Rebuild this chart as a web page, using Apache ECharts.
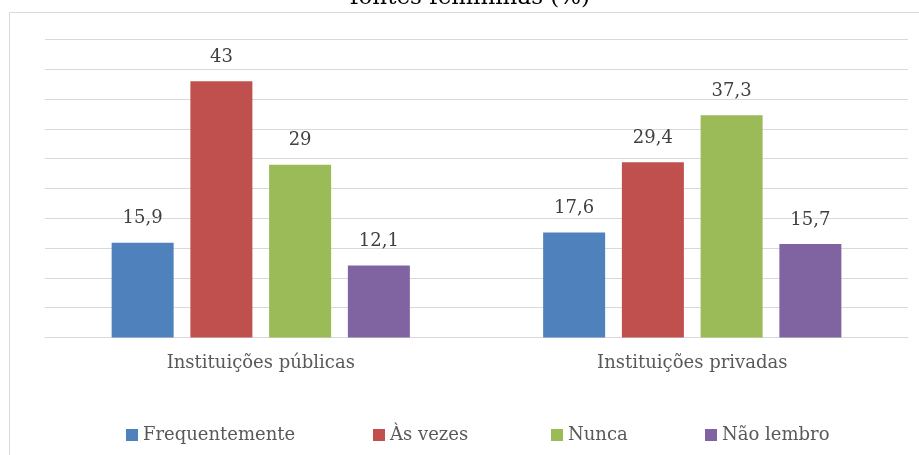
<!DOCTYPE html>
<html>
<head>
<meta charset="utf-8">
<script src="https://cdn.jsdelivr.net/npm/echarts@6/dist/echarts.min.js"></script>
<style>
  html, body { margin: 0; padding: 0; background: #fff; }
  #chart { width: 919px; height: 455px; }
</style>
</head>
<body>
<div id="chart"></div>
<script>
'use strict';

var categories = ['Instituições públicas', 'Instituições privadas'];
var seriesNames = ['Frequentemente', 'Às vezes', 'Nunca', 'Não lembro'];
var frequentemente = [15.9, 17.6];
var asVezes = [43, 29.4];
var nunca = [29, 37.3];
var naoLembro = [12.1, 15.7];
var colors = ['#4F81BD', '#C0504D', '#9BBB59', '#8064A2'];

var font = 'DejaVu Serif';
var chart = echarts.init(document.getElementById('chart'));

function makeSeries(name, data) {
  return {
    name: name,
    type: 'bar',
    data: data,
    barWidth: 62,
    barGap: '27%',
    label: {
      show: true,
      position: 'top',
      distance: 15,
      color: '#404040',
      fontFamily: font,
      fontSize: 18,
      formatter: function (p) {
        return String(p.value).replace('.', ',');
      }
    }
  };
}

// one legend per item so each sits where the original put it
var legendLefts = [121, 368, 546, 700];
var legends = seriesNames.map(function (name, i) {
  return {
    left: legendLefts[i],
    top: 421,
    itemWidth: 12,
    itemHeight: 12,
    icon: 'rect',
    textStyle: {
      fontFamily: font,
      fontSize: 18,
      color: '#595959'
    },
    data: [name]
  };
});

var option = {
  backgroundColor: '#ffffff',
  color: colors,
  animation: false,
  title: {
    text: 'fontes femininas (%)',
    left: 345,
    top: -18,
    textStyle: {
      fontFamily: font,
      fontSize: 23,
      fontWeight: 'normal',
      color: '#000000'
    }
  },
  graphic: [{
    type: 'rect',
    shape: { x: 9.5, y: 12.5, width: 1000, height: 1000 },
    style: { fill: 'none', stroke: '#d9d9d9', lineWidth: 1 },
    z: -1
  }],
  legend: legends,
  grid: {
    left: 45,
    right: 11,
    top: 39.5,
    bottom: 117.5
  },
  xAxis: {
    type: 'category',
    data: categories,
    axisTick: { show: false },
    axisLine: { lineStyle: { color: '#d9d9d9', width: 1 } },
    axisLabel: {
      margin: 17,
      fontFamily: font,
      fontSize: 18,
      color: '#595959'
    }
  },
  yAxis: {
    type: 'value',
    min: 0,
    max: 50,
    interval: 5,
    axisLabel: { show: false },
    axisLine: { show: false },
    axisTick: { show: false },
    splitLine: { lineStyle: { color: '#d9d9d9', width: 1 } }
  },
  series: [
    makeSeries(seriesNames[0], frequentemente),
    makeSeries(seriesNames[1], asVezes),
    makeSeries(seriesNames[2], nunca),
    makeSeries(seriesNames[3], naoLembro)
  ]
};

chart.setOption(option);
</script>
</body>
</html>
